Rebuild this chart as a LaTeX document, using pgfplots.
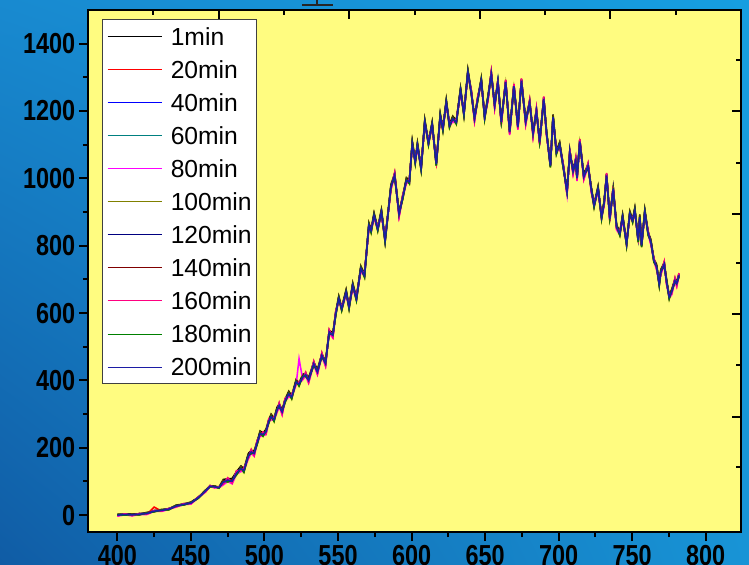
\documentclass[border=0pt]{standalone}
\usepackage{pgfplots}
\pgfplotsset{compat=1.18}
\usepackage{pgfplotstable}
\usetikzlibrary{shadings}
\usepackage{fontspec}
\setmainfont{Liberation Sans}
\definecolor{plotyellow}{RGB}{255,252,128}
\definecolor{bgUL}{RGB}{24,138,208}
\definecolor{bgUR}{RGB}{22,158,224}
\definecolor{bgLL}{RGB}{16,92,165}
\definecolor{bgLR}{RGB}{24,148,214}
\definecolor{cA}{RGB}{0,0,0}
\definecolor{cB}{RGB}{255,0,0}
\definecolor{cC}{RGB}{0,0,255}
\definecolor{cD}{RGB}{0,128,128}
\definecolor{cE}{RGB}{255,0,255}
\definecolor{cF}{RGB}{128,128,0}
\definecolor{cG}{RGB}{0,0,128}
\definecolor{cH}{RGB}{128,0,0}
\definecolor{cI}{RGB}{255,0,128}
\definecolor{cJ}{RGB}{0,128,0}
\definecolor{cK}{RGB}{28,28,165}

\pgfplotstableread{
x a b c d e f g h i j k
400 3 -2 1 -1 -3 2 0 1 -2 1 0
405 3 4 1 4 1 0 3 1 4 0 2
410 4 -1 2 0 -2 3 1 2 -1 2 1
415 4 5 2 5 2 1 4 2 5 1 3
420 8 3 6 4 2 7 5 6 3 6 5
425 13 24 11 14 11 10 13 11 14 10 12
430 17 12 15 13 11 16 14 15 12 15 14
435 19 20 17 20 17 16 19 17 20 16 18
440 30 25 28 26 24 29 27 28 25 28 27
445 33 34 31 34 31 30 33 31 34 30 32
450 39 34 37 35 33 38 36 37 34 37 36
455 53 54 51 54 51 50 53 51 54 50 52
460 75 70 73 71 69 74 72 73 70 73 72
463 87 88 85 88 85 84 87 85 88 84 86
466 87 82 85 83 81 86 84 85 82 85 84
469 83 84 81 84 81 80 83 81 84 80 82
472 106 93 101 95 90 103 99 102 92 100 98
475 108 110 102 109 100 98 106 101 111 99 104
478 109 96 104 98 93 106 102 105 95 103 101
481 129 131 123 130 121 119 127 122 132 120 125
484 146 133 141 135 130 143 139 142 132 140 138
486 137 139 131 138 129 127 135 130 140 128 133
489 183 170 178 172 167 180 176 179 169 177 175
491 192 194 186 193 184 182 190 185 195 183 188
493 191 178 186 180 175 188 184 187 177 185 183
495 219 221 213 220 211 209 217 212 222 210 215
497 250 237 245 239 234 247 243 246 236 244 242
499 244 246 238 245 236 234 242 237 247 235 240
501 255 242 250 244 239 252 248 251 241 249 247
503 284 286 278 285 276 274 282 277 287 275 280
504.5 300 287 295 289 284 297 293 296 286 294 292
506.5 288 290 282 289 280 278 286 281 291 279 284
508.5 320 307 315 309 304 317 313 316 306 314 312
510 330 332 324 331 322 320 328 323 333 321 326
512 314 301 309 303 298 311 307 310 300 308 306
514 344 346 338 345 336 334 342 337 347 335 340
516.5 368 355 363 357 352 365 361 364 354 362 360
518.5 355 357 349 356 347 345 353 348 358 346 351
521.5 403 390 398 392 387 400 396 399 389 397 395
523.5 393 395 387 394 465 383 391 386 396 384 389
526 418 405 413 407 402 415 411 414 404 412 410
528 421 423 415 422 413 411 419 414 424 412 417
530 408 395 403 397 392 405 401 404 394 402 400
533.5 454 456 448 455 446 444 452 447 457 445 450
536 433 420 428 422 417 430 426 429 419 427 425
539 479 481 473 480 471 469 477 472 482 470 475
541.5 458 445 453 447 442 455 451 454 444 452 450
544 548 550 542 549 540 538 546 541 551 539 544
546.5 542 529 537 531 526 539 535 538 528 536 534
548.5 604 606 598 605 596 594 602 597 607 595 600
550.5 651 638 646 640 635 648 644 647 637 645 643
552.5 617 619 611 618 609 607 615 610 620 608 613
555.5 670 657 665 659 654 667 663 666 656 664 662
557.5 622 624 616 623 614 612 620 615 625 613 618
560 690 677 685 679 674 687 683 686 676 684 682
562.5 647 649 641 648 639 637 645 640 650 638 643
565.5 740 727 735 729 724 737 733 736 726 734 732
568 716 718 710 717 708 706 714 709 719 707 712
571 868 855 863 857 852 865 861 864 854 862 860
572.5 849 851 843 850 841 839 847 842 852 840 845
574.5 898 885 893 887 882 895 891 894 884 892 890
577 854 856 848 855 846 844 852 847 857 845 850
579.5 908 895 903 897 892 905 901 904 894 902 900
582 820 822 814 821 812 810 818 813 823 811 816
586 982 969 977 971 966 979 975 978 968 976 974
588.5 1014 1016 1008 1015 1006 1004 1012 1007 1017 1005 1010
591.5 901 888 896 890 885 898 894 897 887 895 893
594 948 950 942 949 940 938 946 941 951 939 944
596.5 1002 989 997 991 986 999 995 998 988 996 994
598.5 994 996 988 995 986 984 992 987 997 985 990
600.5 1111 1098 1106 1100 1095 1108 1104 1107 1097 1105 1103
602.5 1054 1056 1048 1055 1046 1044 1052 1047 1057 1045 1050
604 1106 1093 1101 1095 1090 1103 1099 1102 1092 1100 1098
606.5 1034 1036 1028 1035 1026 1024 1032 1027 1037 1025 1030
609 1175 1162 1170 1164 1159 1172 1168 1171 1161 1169 1167
611.5 1109 1111 1103 1110 1101 1099 1107 1102 1112 1100 1105
614 1168 1155 1163 1157 1152 1165 1161 1164 1154 1162 1160
616.8 1047 1049 1041 1048 1039 1037 1045 1040 1050 1038 1043
619.5 1193 1180 1188 1182 1177 1190 1186 1189 1179 1187 1185
621.3 1151 1153 1145 1152 1143 1141 1149 1144 1154 1142 1147
623.6 1234 1221 1229 1223 1218 1231 1227 1230 1220 1228 1226
625.8 1161 1163 1155 1162 1153 1151 1159 1154 1164 1152 1157
628 1185 1172 1180 1174 1169 1182 1178 1181 1171 1179 1177
630.4 1171 1173 1165 1172 1163 1161 1169 1164 1174 1162 1167
633.3 1269 1256 1264 1258 1253 1266 1262 1265 1255 1263 1261
635.6 1196 1198 1190 1197 1188 1186 1194 1189 1199 1187 1192
638.3 1323 1310 1318 1312 1307 1320 1316 1319 1309 1317 1315
640.6 1260 1262 1254 1261 1252 1250 1258 1253 1263 1251 1256
642.8 1185 1172 1180 1174 1169 1182 1178 1181 1171 1179 1177
645 1240 1242 1234 1241 1232 1230 1238 1233 1243 1231 1236
647.4 1298 1285 1293 1287 1282 1295 1291 1294 1284 1292 1290
649.7 1186 1188 1180 1187 1178 1176 1184 1179 1189 1177 1182
651.9 1244 1231 1239 1233 1228 1241 1237 1240 1230 1238 1236
654.2 1314 1316 1308 1315 1306 1304 1312 1307 1317 1305 1310
656.5 1224 1211 1219 1213 1208 1221 1217 1220 1210 1218 1216
658.7 1290 1292 1284 1291 1282 1280 1288 1283 1293 1281 1286
661 1175 1162 1170 1164 1159 1172 1168 1171 1161 1169 1167
664 1290 1292 1284 1291 1282 1280 1288 1283 1293 1281 1286
666.7 1145 1132 1140 1134 1129 1142 1138 1141 1131 1139 1137
669.6 1278 1280 1272 1279 1270 1268 1276 1271 1281 1269 1274
672.3 1160 1147 1155 1149 1144 1157 1153 1156 1146 1154 1152
674.7 1294 1296 1288 1295 1286 1284 1292 1287 1297 1285 1290
677.6 1175 1162 1170 1164 1159 1172 1168 1171 1161 1169 1167
680.3 1230 1232 1224 1231 1222 1220 1228 1223 1233 1221 1226
682.6 1140 1127 1135 1129 1124 1137 1133 1136 1126 1134 1132
684.9 1205 1207 1199 1206 1197 1195 1203 1198 1208 1196 1201
687.1 1115 1102 1110 1104 1099 1112 1108 1111 1101 1109 1107
689.9 1240 1242 1234 1241 1232 1230 1238 1233 1243 1231 1236
691.7 1145 1132 1140 1134 1129 1142 1138 1141 1131 1139 1137
694.4 1042 1044 1036 1043 1034 1032 1040 1035 1045 1033 1038
696.2 1190 1177 1185 1179 1174 1187 1183 1186 1176 1184 1182
698.5 1082 1084 1076 1083 1074 1072 1080 1075 1085 1073 1078
700.7 1108 1095 1103 1097 1092 1105 1101 1104 1094 1102 1100
703 1044 1046 1038 1045 1036 1034 1042 1037 1047 1035 1040
705.7 967 954 962 956 951 964 960 963 953 961 959
707.6 1082 1084 1076 1083 1074 1072 1080 1075 1085 1073 1078
709.8 1028 1015 1023 1017 1012 1025 1021 1024 1014 1022 1020
711.6 1057 1059 1051 1058 1049 1047 1055 1050 1060 1048 1053
712.5 1008 995 1003 997 992 1005 1001 1004 994 1002 1000
714.4 1114 1116 1108 1115 1106 1104 1112 1107 1117 1105 1110
717.1 1012 999 1007 1001 996 1009 1005 1008 998 1006 1004
720 1042 1044 1036 1043 1034 1032 1040 1035 1045 1033 1038
722.3 972 959 967 961 956 969 965 968 958 966 964
724.1 924 926 918 925 916 914 922 917 927 915 920
726.8 977 964 972 966 961 974 970 973 963 971 969
729.2 889 891 883 890 881 879 887 882 892 880 885
730.9 933 920 928 922 917 930 926 929 919 927 925
732.6 1013 1015 1007 1014 1005 1003 1011 1006 1016 1004 1009
734.8 888 875 883 877 872 885 881 884 874 882 880
737.1 973 975 967 974 965 963 971 966 976 964 969
739.4 863 850 858 852 847 860 856 859 849 857 855
741.6 840 842 834 841 832 830 838 833 843 831 836
743.5 893 880 888 882 877 890 886 889 879 887 885
746.2 810 812 804 811 802 800 808 803 813 801 806
748.4 903 890 898 892 887 900 896 899 889 897 895
750.3 879 881 873 880 871 869 877 872 882 870 875
751.8 913 900 908 902 897 910 906 909 899 907 905
754.1 820 822 814 821 812 810 818 813 823 811 816
755.2 893 880 888 882 877 890 886 889 879 887 885
756.4 805 807 799 806 797 795 803 798 808 796 801
758.6 908 895 903 897 892 905 901 904 894 902 900
760.9 840 842 834 841 832 830 838 833 843 831 836
762.7 819 806 814 808 803 816 812 815 805 813 811
764.8 760 762 754 761 752 750 758 753 763 751 756
766.6 745 732 740 734 729 742 738 741 731 739 737
768.4 691 693 685 692 683 681 689 684 694 682 687
769.5 730 717 725 719 714 727 723 726 716 724 722
771.8 750 752 744 751 742 740 748 743 753 741 746
773.4 700 687 695 689 684 697 693 696 686 694 692
775.2 652 654 646 653 644 642 650 645 655 643 648
776.8 670 657 665 659 654 667 663 666 656 664 662
779.1 701 703 695 702 693 691 699 694 704 692 697
780.3 695 682 690 684 679 692 688 691 681 689 687
781.8 716 718 710 717 708 706 714 709 719 707 712
}\spec

\begin{document}
\begin{tikzpicture}
\shade[upper left=bgUL, upper right=bgUR, lower left=bgLL, lower right=bgLR] (-66pt,-24pt) rectangle (495.75pt,399pt);
\begin{axis}[
  scale only axis, width=489.75pt, height=391.5pt,
  xmin=380, xmax=824, ymin=-50, ymax=1500,
  axis background/.style={fill=plotyellow},
  axis line style={line width=1.5pt, black},
  xtick={400,450,...,800}, ytick={0,200,...,1400},
  minor x tick num=1, minor y tick num=1,
  tick pos=left, tick align=outside,
  major tick length=6.75pt, minor tick length=3.75pt,
  every tick/.style={black, line width=1.5pt},
  tick label style={font=\bfseries\fontsize{21.7}{24}\selectfont, xscale=0.81},
  /pgf/number format/assume math mode=true,
  /pgf/number format/1000 sep={},
  legend image code/.code={\draw[#1, line width=0.7pt] (0pt,0pt) -- (41pt,0pt);},
  legend style={at={(0.0214,0.9828)}, anchor=north west, draw=black!75, line width=0.8pt, fill=white,
    font=\fontsize{18.5}{20}\selectfont, inner xsep=3.5pt, inner ysep=6pt, row sep=11.5pt,
    nodes={inner sep=0pt, text height=13.3pt, text depth=0pt},
    /tikz/every odd column/.append style={column sep=6pt}},
  legend cell align=left,
  every axis plot/.append style={line width=1.15pt},
]
\addplot[cA] table[x=x,y=a]{\spec};
\addplot[cB] table[x=x,y=b]{\spec};
\addplot[cC] table[x=x,y=c]{\spec};
\addplot[cD] table[x=x,y=d]{\spec};
\addplot[cE] table[x=x,y=e]{\spec};
\addplot[cF] table[x=x,y=f]{\spec};
\addplot[cG] table[x=x,y=g]{\spec};
\addplot[cH] table[x=x,y=h]{\spec};
\addplot[cI] table[x=x,y=i]{\spec};
\addplot[cJ] table[x=x,y=j]{\spec};
\addplot[cK] table[x=x,y=k]{\spec};
\legend{1min,20min,40min,60min,80min,100min,120min,140min,160min,180min,200min}
\end{axis}
\begin{axis}[
  scale only axis, width=489.75pt, height=391.5pt,
  xmin=0, xmax=10, ymin=0, ymax=520,
  axis line style={line width=1.5pt, black},
  xtick={2,4,6,8}, minor xtick={1,3,5,7,9},
  ytick={115,217,317,419}, minor ytick={65,166,268,368,470},
  xtick pos=right, ytick pos=right, tick align=inside,
  xticklabels={}, yticklabels={},
  major tick length=6.75pt, minor tick length=3.75pt,
  every tick/.style={black, line width=1.5pt},
]
\end{axis}
\draw[line width=2.2pt, black!85] (160.5pt,395.25pt) -- (183.75pt,395.25pt);
\draw[line width=1.5pt, black!85] (171.75pt,395.25pt) -- (171.75pt,400pt);
\pgfresetboundingbox
\useasboundingbox (-66pt,-24pt) rectangle (495.75pt,399pt);
\end{tikzpicture}
\end{document}
